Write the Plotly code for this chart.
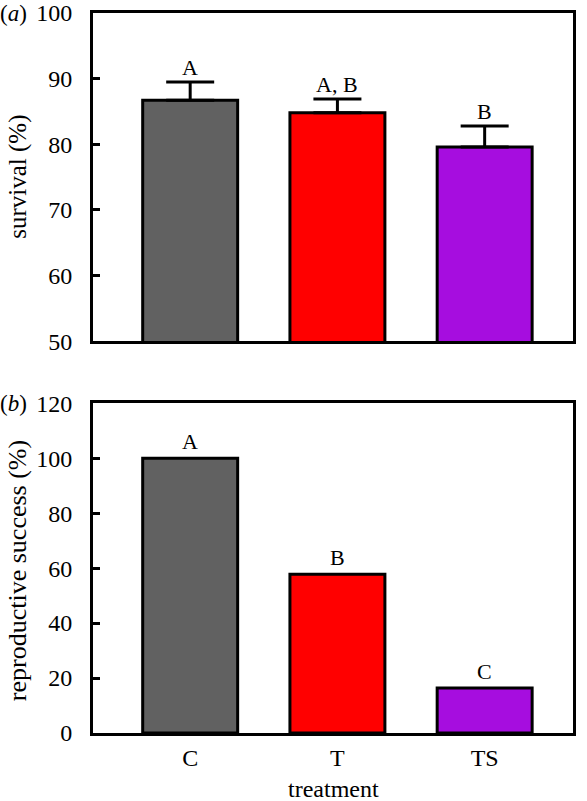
import plotly.graph_objects as go
from plotly.subplots import make_subplots

categories = ["C", "T", "TS"]
survival = [86.7, 84.8, 79.6]
survival_err = [2.8, 2.1, 3.2]
survival_letters = ["A", "A, B", "B"]
repro = [100, 57.8, 16.4]
repro_letters = ["A", "B", "C"]
colors = ["#616161", "#ff0000", "#a60ddf"]

FONT = "Liberation Serif"
TICK = 24
LBL = 22

fig = make_subplots(rows=2, cols=1, vertical_spacing=0.0)

fig.add_trace(go.Bar(
    x=categories, y=survival, width=0.645,
    marker=dict(color=colors, line=dict(color="black", width=3)),
    error_y=dict(type="data", array=survival_err, arrayminus=[0, 0, 0], symmetric=False,
                 color="black", thickness=3, width=24),
    showlegend=False), row=1, col=1)

fig.add_trace(go.Bar(
    x=categories, y=repro, width=0.645,
    marker=dict(color=colors, line=dict(color="black", width=3)),
    showlegend=False), row=2, col=1)

annotations = []
for c, v, e, t in zip(categories, survival, survival_err, survival_letters):
    annotations.append(dict(x=c, y=v + e, xref="x", yref="y", text=t, showarrow=False,
                            yanchor="bottom", yshift=0, font=dict(family=FONT, size=LBL, color="black")))
for c, v, t in zip(categories, repro, repro_letters):
    annotations.append(dict(x=c, y=v, xref="x2", yref="y2", text=t, showarrow=False,
                            yanchor="bottom", yshift=2, font=dict(family=FONT, size=LBL, color="black")))
annotations.append(dict(x=-0.165, y=1.0, xref="paper", yref="paper", text="(<i>a</i>)", showarrow=False,
                        xanchor="center", yanchor="middle", font=dict(family=FONT, size=23, color="black")))
annotations.append(dict(x=-0.165, y=0.458, xref="paper", yref="paper", text="(<i>b</i>)", showarrow=False,
                        xanchor="center", yanchor="middle", font=dict(family=FONT, size=23, color="black")))
annotations.append(dict(x=-0.155, y=0.772, xref="paper", yref="paper", text="survival (%)", showarrow=False,
                        textangle=-90, xanchor="center", yanchor="middle",
                        font=dict(family=FONT, size=25, color="black")))
annotations.append(dict(x=-0.158, y=0.225, xref="paper", yref="paper", text="reproductive success (%)",
                        showarrow=False, textangle=-90, xanchor="center", yanchor="middle",
                        font=dict(family=FONT, size=26, color="black")))
annotations.append(dict(x=0.5, y=-0.078, xref="paper", yref="paper", text="treatment", showarrow=False,
                        xanchor="center", yanchor="middle", font=dict(family=FONT, size=24, color="black")))

axis_common = dict(showline=True, linewidth=3, linecolor="black", mirror=True,
                   showgrid=False, zeroline=False, automargin=False)

fig.update_layout(
    width=587, height=801,
    margin=dict(l=93, r=14, t=13, b=68),
    plot_bgcolor="white", paper_bgcolor="white",
    font=dict(family=FONT, size=TICK, color="black"),
    annotations=annotations,
    xaxis=dict(**axis_common, range=[-0.66, 2.6], showticklabels=False, ticks="",
               domain=[0, 1], anchor="y"),
    yaxis=dict(**axis_common, range=[50, 100], tickvals=[50, 60, 70, 80, 90, 100],
               ticks="inside", ticklen=7, tickwidth=3, tickcolor="black",
               domain=[0.544, 1.0], ticklabelstandoff=13, ticklabeloverflow="allow",
               tickfont=dict(family=FONT, size=TICK)),
    xaxis2=dict(**axis_common, range=[-0.66, 2.6], ticks="", anchor="y2", domain=[0, 1],
                ticklabelstandoff=1, ticklabeloverflow="allow",
                tickfont=dict(family=FONT, size=TICK)),
    yaxis2=dict(**axis_common, range=[0, 120], tickvals=[0, 20, 40, 60, 80, 100, 120],
                ticks="inside", ticklen=7, tickwidth=3, tickcolor="black",
                domain=[0.0, 0.458], ticklabelstandoff=13, ticklabeloverflow="allow",
                tickfont=dict(family=FONT, size=TICK)),
)

fig.write_html("out.html", config={"displayModeBar": False},
               post_script="document.body.style.margin='0px';")
